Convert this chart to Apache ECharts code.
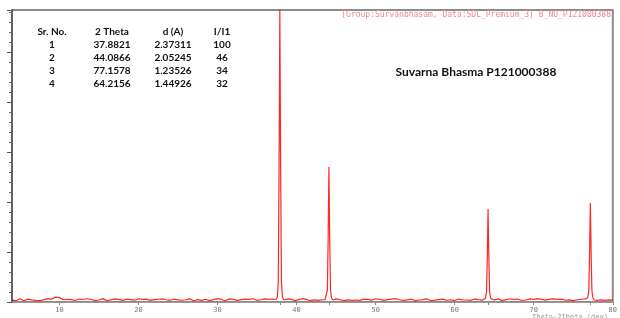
<!DOCTYPE html>
<html>
<head>
<meta charset="utf-8">
<script src="https://cdn.jsdelivr.net/npm/echarts@6/dist/echarts.min.js"></script>
<style>
  html, body { margin: 0; padding: 0; background: #fff; }
  #chart { width: 620px; height: 318px; }
</style>
</head>
<body>
<div id="chart"></div>
<script>
// table printed in the top-left corner
var tableHead = ['Sr. No.', '2 Theta', 'd (A)', 'I/I1'];
var srNo = ['1', '2', '3', '4'];
var twoTheta = ['37.8821', '44.0866', '77.1578', '64.2156'];
var dSpacing = ['2.37311', '2.05245', '1.23526', '1.44926'];
var relInt = ['100', '46', '34', '32'];

// x axis labels (deg)
var xTicks = [10, 20, 30, 40, 50, 60, 70, 80];
var peakMarks = [37.88, 44.09, 64.22, 77.16];

// background noise, read every 0.25 deg starting at 4 deg
var noiseStart = 4;
var noiseStep = 0.25;
var noise = [
  38,56,26,45,64,32,24,50,58,30,42,63,33,52,27,60,44,36,66,41,
  58,72,96,110,88,66,45,34,55,25,48,64,30,43,59,27,50,36,65,32,
  54,44,26,61,40,33,68,47,28,57,43,35,62,27,52,65,32,45,56,24,
  46,60,36,30,64,44,53,24,58,42,33,67,48,28,55,40,61,31,45,63,
  34,52,59,27,43,65,35,54,45,30,62,41,25,57,47,70,32,44,55,36,
  28,60,46,37,66,32,51,56,26,44,63,35,53,42,31,61,47,33,58,41,
  52,27,65,44,34,56,45,25,62,40,51,32,60,43,54,30,64,36,49,57,
  33,61,42,28,58,47,36,67,30,53,44,26,60,41,55,33,63,45,35,51,
  56,41,31,50,62,35,45,65,27,54,43,59,32,52,40,66,34,46,57,29,
  51,60,36,44,64,30,55,42,33,61,47,27,58,41,67,35,45,53,31,62,
  43,34,59,48,28,65,40,56,46,32,61,44,26,54,36,63,47,30,58,42,
  35,57,45,64,29,52,60,33,43,55,40,66,32,51,61,27,46,56,36,53,
  44,63,34,55,41,31,62,46,28,58,48,35,65,43,53,33,60,45,30,57,
  40,50,61,32,54,44,66,27,52,59,36,45,56,34,63,42,51,31,58,46,
  35,64,43,53,29,60,45,33,55,47,62,41,30,57,40,65,34,52,44,59,
  32,54,42,61,36
];

// peak profiles [2theta, counts]
var peak1 = [[37.38,50],[37.56,95],[37.68,380],[37.78,2600],[37.88,5840],[37.98,2800],[38.08,420],[38.2,105],[38.38,45]];
var peak2 = [[43.59,45],[43.77,80],[43.89,230],[43.99,1200],[44.09,2700],[44.19,1280],[44.29,250],[44.41,85],[44.59,40]];
var peak3 = [[63.72,50],[63.9,80],[64.02,190],[64.12,850],[64.22,1860],[64.32,900],[64.42,200],[64.54,75],[64.72,45]];
var peak4 = [[76.66,45],[76.84,85],[76.96,220],[77.06,920],[77.16,1980],[77.26,980],[77.36,230],[77.48,85],[77.66,40]];

var peaks = [peak1, peak2, peak3, peak4];
var pattern = [];
noise.forEach(function (v, i) {
  var x = noiseStart + i * noiseStep;
  var inPeak = peaks.some(function (p) { return x >= p[0][0] && x <= p[p.length - 1][0]; });
  if (!inPeak) pattern.push([x, v]);
});
peaks.forEach(function (p) { pattern = pattern.concat(p); });
pattern.sort(function (a, b) { return a[0] - b[0]; });

var chart = echarts.init(document.getElementById('chart'));

var tableFont = 'bold 10px Lato';
var colX = [52, 112, 173, 222];
var rowY = [32, 45, 58, 71, 84];
var texts = [];
tableHead.forEach(function (h, c) {
  texts.push({ type: 'text', x: colX[c], y: rowY[0], style: { text: h, font: tableFont, fill: '#111', align: 'center', verticalAlign: 'middle' } });
});
[srNo, twoTheta, dSpacing, relInt].forEach(function (col, c) {
  col.forEach(function (t, r) {
    texts.push({ type: 'text', x: colX[c], y: rowY[r + 1], style: { text: t, font: tableFont, fill: '#111', align: 'center', verticalAlign: 'middle' } });
  });
});
texts.push({ type: 'text', x: 476, y: 72, style: { text: 'Suvarna Bhasma P121000388', font: 'bold 12px Lato', fill: '#111', align: 'center', verticalAlign: 'middle' } });
texts.push({ type: 'text', x: 611, y: 15, style: { text: '[Group:Survanbhasam, Data:SDL_Premium_3] B_NO_P121000388', font: '8px "DejaVu Sans Mono"', fill: '#f08a8a', align: 'right', verticalAlign: 'middle' } });
texts.push({ type: 'text', x: 532, y: 314, style: { text: 'Theta-2Theta (deg)', font: '7px "DejaVu Sans Mono"', fill: '#999', align: 'left', verticalAlign: 'top' } });

var option = {
  animation: false,
  backgroundColor: '#fff',
  grid: {
    left: 12, right: 7, top: 10, bottom: 16,
    show: true, borderColor: '#8c8c8c', borderWidth: 2
  },
  xAxis: {
    type: 'value', min: 4, max: 80,
    axisLine: { show: true, lineStyle: { color: '#999', width: 1 } },
    axisTick: { show: true, length: 3, lineStyle: { color: '#888' }, customValues: xTicks.concat(peakMarks) },
    axisLabel: { customValues: xTicks, fontSize: 7, color: '#777', fontFamily: 'DejaVu Sans Mono', margin: 5 },
    splitLine: { show: false }
  },
  yAxis: [
    {
      type: 'value', min: 0, max: 5840, interval: 200,
      axisLine: { show: true, lineStyle: { color: '#555', width: 1.5 } },
      axisTick: { show: true, length: 3, lineStyle: { color: '#666' } },
      axisLabel: { show: false },
      splitLine: { show: false }
    },
    {
      type: 'value', min: 0, max: 5840, interval: 1000, position: 'left',
      axisLine: { show: false },
      axisTick: { show: true, length: 5, lineStyle: { color: '#555' } },
      axisLabel: { show: false },
      splitLine: { show: false }
    }
  ],
  series: [{
    type: 'line',
    data: pattern,
    showSymbol: false,
    lineStyle: { color: 'rgba(255,0,0,0.85)', width: 1.2 },
    z: 3
  }],
  graphic: texts
};
chart.setOption(option);
</script>
</body>
</html>
